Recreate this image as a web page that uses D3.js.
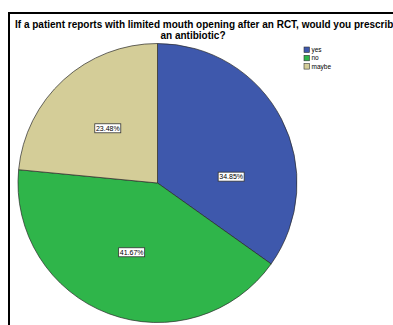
<!DOCTYPE html>
<html>
<head>
<meta charset="utf-8">
<script src="https://cdn.jsdelivr.net/npm/d3@7"></script>
<style>
  html, body { margin: 0; padding: 0; background: #fff; }
  svg { display: block; }
</style>
</head>
<body>
<svg id="chart" width="393" height="325"></svg>
<script>
// Survey answers and their shares (percent)
const categories = ["yes", "no", "maybe"];
const shares = [34.85, 41.67, 23.48];
const sliceColors = ["#3e58ac", "#2fb54a", "#d4cd98"];
const titleLines = [
  "If a patient reports with limited mouth opening after an RCT, would you prescribe",
  "an antibiotic?"
];

const W = 393, H = 325;
const svg = d3.select("#chart");

// Outer frame of the chart panel
svg.append("rect")
  .attr("x", 9).attr("y", 13)
  .attr("width", W + 20).attr("height", H + 20)
  .attr("fill", "#fff")
  .attr("stroke", "#000").attr("stroke-width", 2);

// Title
const title = svg.append("g")
  .attr("font-family", "Liberation Sans, Arial, sans-serif")
  .attr("font-weight", "bold")
  .attr("font-size", 10)
  .attr("fill", "#000");
title.append("text").attr("x", 15).attr("y", 28).text(titleLines[0]);
title.append("text").attr("x", 193).attr("y", 38.5).attr("text-anchor", "middle").text(titleLines[1]);

// Pie
const cx = 157.5, cy = 183, R = 139.5;
const pie = d3.pie().sort(null).value(d => d.value);
const data = categories.map((c, i) => ({ name: c, value: shares[i], color: sliceColors[i] }));
const arcs = pie(data);
const arc = d3.arc().innerRadius(0).outerRadius(R);

const g = svg.append("g").attr("transform", `translate(${cx},${cy})`);
g.selectAll("path.slice")
  .data(arcs)
  .join("path")
  .attr("class", "slice")
  .attr("d", arc)
  .attr("fill", d => d.data.color)
  .attr("stroke", "#2a2a2a")
  .attr("stroke-width", 0.7);

// Percentage labels in boxes, placed around the middle of each slice
const labelR = R * 0.53;
const angleNudge = [0.39, 0, 0]; // radians, shifts a label away from the slice edge
const labels = g.selectAll("g.lbl")
  .data(arcs)
  .join("g")
  .attr("class", "lbl")
  .attr("transform", (d, i) => {
    const a = (d.startAngle + d.endAngle) / 2 + angleNudge[i];
    return `translate(${Math.sin(a) * labelR},${-Math.cos(a) * labelR})`;
  });
labels.append("rect")
  .attr("x", -13).attr("y", -4.5)
  .attr("width", 26).attr("height", 9)
  .attr("fill", "#fff")
  .attr("stroke", "#333").attr("stroke-width", 0.8);
labels.append("text")
  .attr("text-anchor", "middle")
  .attr("y", 2.6)
  .attr("font-family", "Liberation Sans, Arial, sans-serif")
  .attr("font-size", 7)
  .attr("fill", "#000")
  .text(d => d.data.value.toFixed(2) + "%");

// Legend
const legend = svg.append("g").attr("transform", "translate(304,47)");
const items = legend.selectAll("g")
  .data(data)
  .join("g")
  .attr("transform", (d, i) => `translate(0,${i * 8.3})`);
items.append("rect")
  .attr("width", 5.5).attr("height", 5.5)
  .attr("fill", d => d.color)
  .attr("stroke", "#333").attr("stroke-width", 0.6);
items.append("text")
  .attr("x", 7.5).attr("y", 5)
  .attr("font-family", "Liberation Sans, Arial, sans-serif")
  .attr("font-size", 6.5)
  .attr("fill", "#000")
  .text(d => d.name);
</script>
</body>
</html>
